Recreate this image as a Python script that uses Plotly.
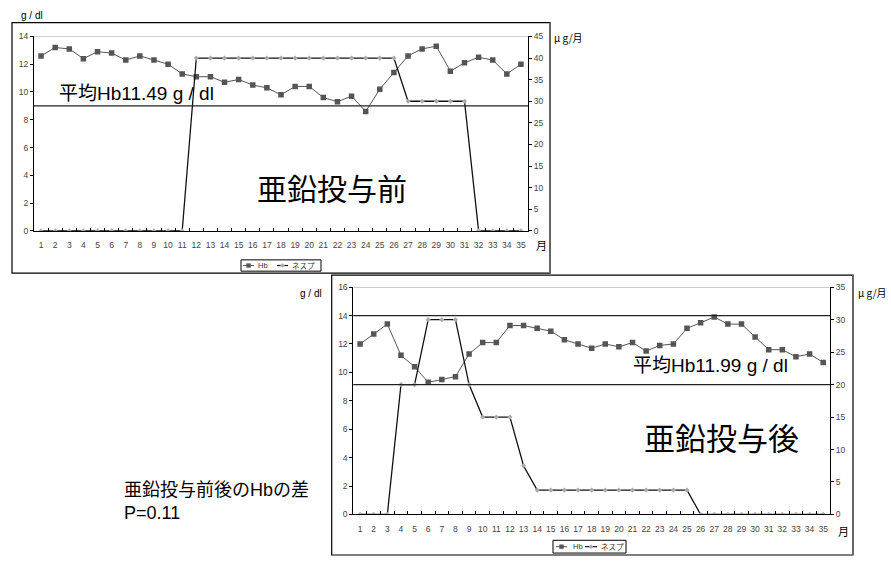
import plotly.graph_objects as go

W, H = 891, 561

months = list(range(1, 36))

# Chart 1 (before zinc)
hb_before = [12.6, 13.2, 13.1, 12.4, 12.9, 12.8, 12.3, 12.6, 12.3, 12.0,
             11.3, 11.1, 11.1, 10.7, 10.9, 10.5, 10.3, 9.8, 10.4, 10.4,
             9.6, 9.3, 9.7, 8.6, 10.2, 11.4, 12.6, 13.1, 13.3, 11.5,
             12.1, 12.5, 12.3, 11.3, 12.0]
nesp_before = [0] * 11 + [40] * 15 + [30] * 5 + [0] * 4
avg_line_before = 9.0

# Chart 2 (after zinc)
hb_after = [12.0, 12.7, 13.4, 11.2, 10.4, 9.3, 9.5, 9.7, 11.3, 12.1,
            12.1, 13.3, 13.3, 13.1, 12.9, 12.3, 12.0, 11.7, 12.0, 11.8,
            12.1, 11.5, 11.9, 12.0, 13.1, 13.5, 13.9, 13.4, 13.4, 12.5,
            11.6, 11.6, 11.1, 11.3, 10.7]
nesp_after = [0, 0, 0, 20, 20, 30, 30, 30, 20, 15,
              15, 15, 7.5, 3.75, 3.75, 3.75, 3.75, 3.75, 3.75, 3.75,
              3.75, 3.75, 3.75, 3.75, 3.75, 0, 0, 0, 0, 0,
              0, 0, 0, 0, 0]
ref_lines_after = [14.0, 9.14]

series_names = ["Hb", "ネスプ"]

left_ticks_1 = list(range(0, 15, 2))
right_ticks_1 = list(range(0, 46, 5))
left_ticks_2 = list(range(0, 17, 2))
right_ticks_2 = list(range(0, 36, 5))


def px(x):
    return x / W


def py(y):
    return 1 - y / H


FONT = "Liberation Sans, Noto Sans CJK JP, sans-serif"
JFONT = "Noto Sans CJK JP, sans-serif"
TICKFONT = dict(family=FONT, size=8.5, color="#444")
HB_COLOR = "#555555"
NESP_LINE = "#111111"
NESP_MARK = "#aaaaaa"

fig = go.Figure()

hb_style = dict(mode="lines+markers", line=dict(color=HB_COLOR, width=1),
                marker=dict(symbol="square", size=5.5, color=HB_COLOR), showlegend=False)
nesp_style = dict(mode="lines+markers", line=dict(color=NESP_LINE, width=1.3),
                  marker=dict(symbol="diamond", size=4, color=NESP_MARK), showlegend=False)

fig.add_trace(go.Scatter(x=months, y=hb_before, name=series_names[0], xaxis="x", yaxis="y", **hb_style))
fig.add_trace(go.Scatter(x=months, y=nesp_before, name=series_names[1], xaxis="x", yaxis="y2", **nesp_style))
fig.add_trace(go.Scatter(x=months, y=hb_after, name=series_names[0], xaxis="x2", yaxis="y3", **hb_style))
fig.add_trace(go.Scatter(x=months, y=nesp_after, name=series_names[1], xaxis="x2", yaxis="y4", **nesp_style))

xcommon = dict(range=[0.5, 35.5], tickmode="array", tickvals=months,
               ticktext=[str(m) for m in months], ticks="", showline=True,
               linecolor="black", linewidth=1, showgrid=False, zeroline=False,
               tickfont=TICKFONT, ticklabelstandoff=6,
               minor=dict(tickmode="array", tickvals=[m + 0.5 for m in months],
                          ticks="inside", ticklen=3, tickcolor="black", showgrid=False))

ycommon = dict(ticks="outside", ticklen=3, tickcolor="black", showline=True,
               linecolor="black", linewidth=1, showgrid=False, zeroline=False,
               tickfont=TICKFONT, tickmode="array")

fig.update_layout(
    width=W, height=H, margin=dict(l=0, r=0, t=0, b=0),
    paper_bgcolor="white", plot_bgcolor="rgba(0,0,0,0)",
    font=dict(family=FONT, color="black"),
    showlegend=False,
    xaxis=dict(domain=[px(34), px(528)], anchor="y", **xcommon),
    yaxis=dict(domain=[py(230), py(32)], anchor="x", range=[0, 14],
               tickvals=left_ticks_1, **ycommon),
    yaxis2=dict(overlaying="y", side="right", anchor="x", range=[0, 45],
                tickvals=right_ticks_1, **ycommon),
    xaxis2=dict(domain=[px(353.3), px(830)], anchor="y3", **xcommon),
    yaxis3=dict(domain=[py(518.7), py(287.3)], anchor="x2", range=[0, 16],
                tickvals=left_ticks_2, **ycommon),
    yaxis4=dict(overlaying="y3", side="right", anchor="x2", range=[0, 35],
                tickvals=right_ticks_2, **ycommon),
)

shapes = []
# outer frames
shapes.append(dict(type="rect", xref="paper", yref="paper", x0=px(12), x1=px(550),
                   y0=py(273), y1=py(18), line=dict(color="black", width=1.2), layer="below"))
shapes.append(dict(type="line", xref="paper", yref="paper", x0=px(550), x1=px(550),
                   y0=py(273), y1=py(18), line=dict(color="#666", width=2)))
shapes.append(dict(type="rect", xref="paper", yref="paper", x0=px(331.7), x1=px(853),
                   y0=py(560), y1=py(275), line=dict(color="black", width=1.2), layer="below"))
shapes.append(dict(type="line", xref="paper", yref="paper", x0=px(853), x1=px(853),
                   y0=py(560), y1=py(275), line=dict(color="#666", width=2)))
# plot-area top borders (gray)
shapes.append(dict(type="line", xref="x domain", yref="y", x0=0, x1=1, y0=14, y1=14,
                   line=dict(color="#999", width=1)))
shapes.append(dict(type="line", xref="x2 domain", yref="y3", x0=0, x1=1, y0=16, y1=16,
                   line=dict(color="#999", width=1)))
# reference lines
shapes.append(dict(type="line", xref="x domain", yref="y", x0=0, x1=1,
                   y0=avg_line_before, y1=avg_line_before, line=dict(color="#222", width=1.3)))
for v in ref_lines_after:
    shapes.append(dict(type="line", xref="x2 domain", yref="y3", x0=0, x1=1,
                       y0=v, y1=v, line=dict(color="#222", width=1.3)))


def ann(text, x, y, size, xanchor="center", yanchor="middle", color="black", family=FONT):
    fig.add_annotation(text=text, x=px(x), y=py(y), xref="paper", yref="paper",
                       showarrow=False, xanchor=xanchor, yanchor=yanchor,
                       font=dict(family=family, size=size, color=color))


def legend_box(x0, x1, y0, y1, hb_seg, nesp_seg, hb_text_x, nesp_text_x):
    yc = (y0 + y1) / 2
    shapes.append(dict(type="rect", xref="paper", yref="paper", x0=px(x0), x1=px(x1),
                       y0=py(y1), y1=py(y0), line=dict(color="black", width=1),
                       fillcolor="white"))
    # Hb sample
    shapes.append(dict(type="line", xref="paper", yref="paper", x0=px(hb_seg[0]), x1=px(hb_seg[1]),
                       y0=py(yc), y1=py(yc), line=dict(color=HB_COLOR, width=1)))
    m = (hb_seg[0] + hb_seg[1]) / 2
    shapes.append(dict(type="rect", xref="paper", yref="paper", x0=px(m - 2.2), x1=px(m + 2.2),
                       y0=py(yc + 2.2), y1=py(yc - 2.2), line=dict(width=0), fillcolor=HB_COLOR))
    # Nesp sample
    shapes.append(dict(type="line", xref="paper", yref="paper", x0=px(nesp_seg[0]), x1=px(nesp_seg[1]),
                       y0=py(yc), y1=py(yc), line=dict(color=NESP_LINE, width=1.2)))
    m = (nesp_seg[0] + nesp_seg[1]) / 2
    d = 2.3
    path = (f"M {px(m - d)} {py(yc)} L {px(m)} {py(yc - d)} L {px(m + d)} {py(yc)} "
            f"L {px(m)} {py(yc + d)} Z")
    shapes.append(dict(type="path", xref="paper", yref="paper", path=path,
                       line=dict(width=0), fillcolor=NESP_MARK))
    ann(series_names[0], hb_text_x, yc, 7.5, xanchor="left", color="#333")
    ann(series_names[1], nesp_text_x, yc, 7.5, xanchor="left", color="#333", family=JFONT)


legend_box(241, 321, 259.5, 271, (243, 254), (277, 288), 256, 290)
legend_box(553, 626, 545, 558, (556, 567), (585, 597), 571, 599)

fig.update_layout(shapes=shapes)

# chart 1 texts
ann("g / dl", 32, 11, 10)
ann("μ g/月", 552, 33, 10, xanchor="left", family=JFONT)
ann("月", 541, 244, 11, family=JFONT)
ann("平均Hb11.49 g / dl", 57, 90, 19, xanchor="left")
ann("亜鉛投与前", 332, 185, 30, family=JFONT)
# chart 2 texts
ann("g / dl", 311, 294, 10)
ann("μ g/月", 856, 293, 10, xanchor="left", family=JFONT)
ann("月", 843, 525, 11, yanchor="top", family=JFONT)
ann("平均Hb11.99 g / dl", 631, 367, 19, xanchor="left")
ann("亜鉛投与後", 721, 439, 31, family=JFONT)
# note
fig.add_annotation(text="亜鉛投与前後のHbの差<br>P=0.11", x=px(122), y=py(506),
                   xref="paper", yref="paper", showarrow=False, xanchor="left",
                   yanchor="middle", align="left",
                   font=dict(family=FONT, size=18, color="black"))

fig.write_html("out.html")
